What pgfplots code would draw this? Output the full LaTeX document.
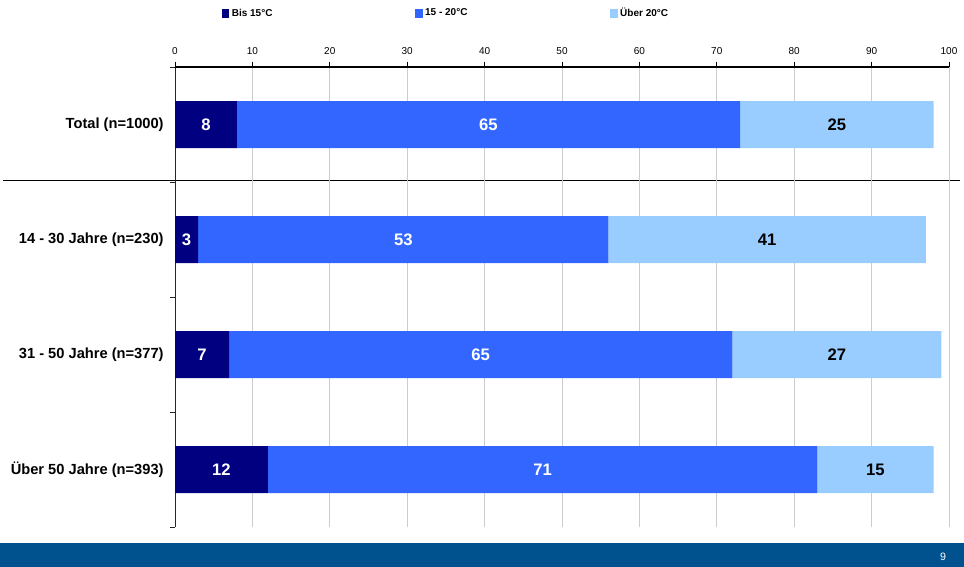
\documentclass[border=0pt]{standalone}
\usepackage{pgfplots}
\pgfplotsset{compat=1.18}
\usepackage{pgfplotstable}
\usepackage{fontspec}
\setmainfont{Liberation Sans}

\definecolor{darkbar}{HTML}{000080}
\definecolor{midbar}{HTML}{3366FF}
\definecolor{lightbar}{HTML}{99CCFF}
\definecolor{band}{HTML}{00528F}

% temperature groups per category (percent); pos 3 = top row
\pgfplotstableread{
pos bis mid ueber
3 8 65 25
2 3 53 41
1 7 65 27
0 12 71 15
}\temps

\begin{document}
\begin{tikzpicture}[x=1pt,y=1pt]
\useasboundingbox (0,0) rectangle (723,-425.25);
\fill[band] (0,-407.25) rectangle (723,-425.25);
\node[white,font=\fontsize{8}{9}\selectfont] at (707.25,-417.75) {9};
\draw[black,line width=0.6pt] (2.25,-135) -- (720,-135);

\begin{axis}[
    at={(131.25pt,-395.25pt)}, anchor=south west,
    width=580.5pt, height=345pt, scale only axis,
    xbar stacked, bar width=35.25pt,
    xmin=0, xmax=100, ymin=-0.5, ymax=3.5,
    axis x line*=top, axis y line*=left,
    axis line style={-, black!85, line width=0.7pt},
    xtick={0,10,...,100},
    ytick={-0.5,0.5,...,3.5}, yticklabels={},
    extra y ticks={0,1,2,3},
    extra y tick labels={Über 50 Jahre (n=393),31 - 50 Jahre (n=377),14 - 30 Jahre (n=230),Total (n=1000)},
    extra y tick style={major tick length=0pt,
        yticklabel style={font=\bfseries\fontsize{11}{13}\selectfont, xshift=-5pt}},
    tick align=outside, major tick length=4pt,
    tick style={black!85, line width=0.6pt},
    xmajorgrids, grid style={black!20, line width=0.6pt},
    /pgf/number format/assume math mode=true,
    x tick label style={font=\fontsize{7.5}{9}\selectfont, yshift=2pt},
    legend style={at={(0.055,1.14)}, anchor=north west, draw=none, fill=none,
        font=\bfseries\fontsize{7.5}{9}\selectfont,
        /tikz/every even column/.append style={column sep=105pt}},
    legend columns=3,
    legend image code/.code={\fill[#1] (0pt,-3.3pt) rectangle (5.5pt,3.3pt);},
]
\addplot[fill=darkbar, draw=none] table[x=bis, y=pos] {\temps};
\addplot[fill=midbar, draw=none] table[x=mid, y=pos] {\temps};
\addplot[fill=lightbar, draw=none] table[x=ueber, y=pos] {\temps};
\legend{Bis 15°C, 15 - 20°C, Über 20°C}
\end{axis}

\begin{axis}[
    at={(131.25pt,-395.25pt)}, anchor=south west,
    width=580.5pt, height=345pt, scale only axis,
    xmin=0, xmax=100, ymin=-0.5, ymax=3.5,
    hide axis, clip=false,
    nodes near coords, point meta=explicit symbolic,
    every node near coord/.append style={anchor=center, font=\bfseries\fontsize{12.5}{14}\selectfont},
]
\addplot[only marks, mark=none, nodes near coords style={white}]
    table[x expr=\thisrow{bis}/2, y=pos, meta=bis] {\temps};
\addplot[only marks, mark=none, nodes near coords style={white}]
    table[x expr=\thisrow{bis}+\thisrow{mid}/2, y=pos, meta=mid] {\temps};
\addplot[only marks, mark=none, nodes near coords style={black}]
    table[x expr=\thisrow{bis}+\thisrow{mid}+\thisrow{ueber}/2, y=pos, meta=ueber] {\temps};
\end{axis}

% top axis line with its ticks
\draw[black, line width=0.8pt] (131.25,-50.25) -- (711.75,-50.25);
\foreach \i in {0,...,10} {
    \draw[black, line width=0.6pt] ({131.25+58.05*\i},-50.25) -- ++(0,4);
}
\end{tikzpicture}
\end{document}
